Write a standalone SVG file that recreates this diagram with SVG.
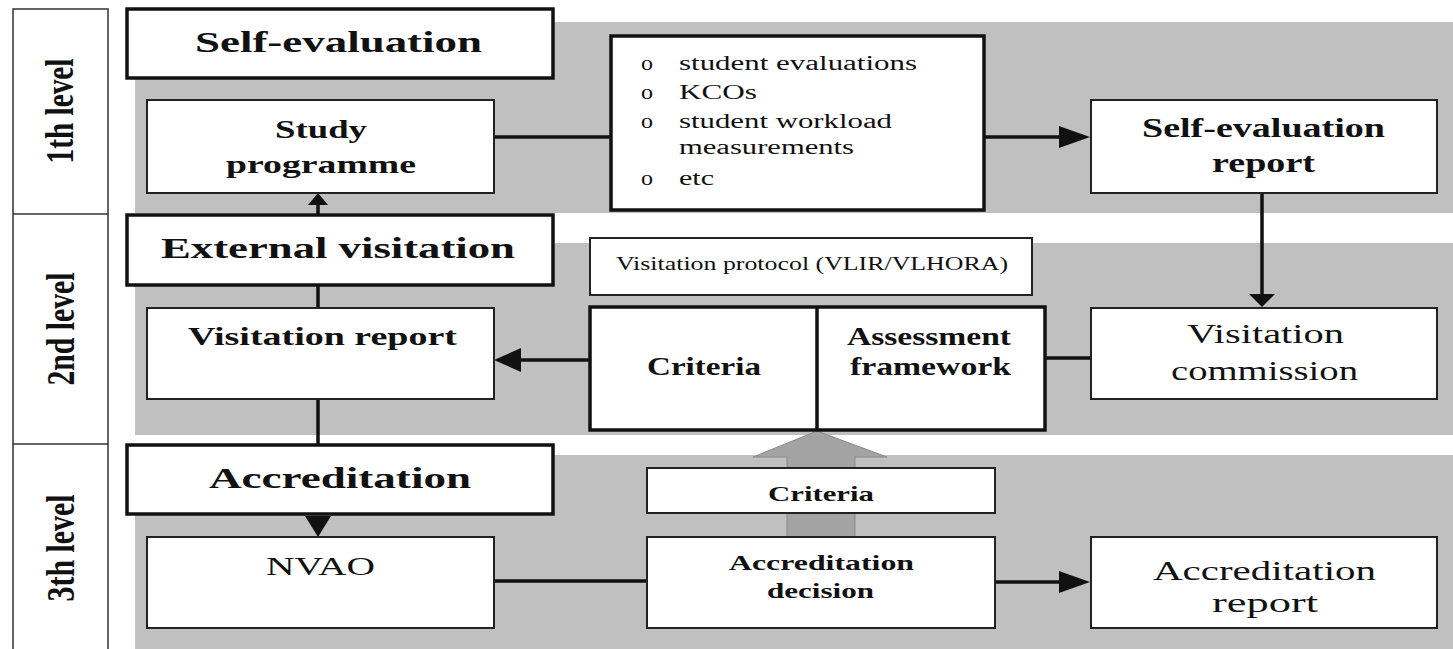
<svg xmlns="http://www.w3.org/2000/svg" width="1453" height="649" viewBox="0 0 1453 649">
<style>
.band{fill:#c0c0c0}
.hdr{fill:#fff;stroke:#111;stroke-width:3.5}
.box{fill:#fff;stroke:#222;stroke-width:2}
.thk{fill:#fff;stroke:#111;stroke-width:3.5}
.lvl{fill:#fff;stroke:#333;stroke-width:1.5}
.ln{stroke:#111;stroke-width:3.5;fill:none}
.ah{fill:#111}
text{font-family:"Liberation Serif","Times New Roman",serif;fill:#111}
.b{font-weight:bold}
.h{font-size:30px;font-weight:bold}
.m{font-size:25px;font-weight:bold}
.r{font-size:27px}
.s{font-size:20px}
.sm{font-size:21px;font-weight:bold}
</style>
<rect width="1453" height="649" fill="#fff"/>
<g id="bands">
<rect class="band" x="135" y="22" width="1318" height="191"/>
<rect class="band" x="135" y="243" width="1318" height="192"/>
<rect class="band" x="135" y="455" width="1318" height="194"/>
</g>
<g id="levels">
<rect class="lvl" x="13" y="9" width="95" height="645"/>
<line x1="13" y1="214" x2="108" y2="214" stroke="#333" stroke-width="1.5"/>
<line x1="13" y1="444" x2="108" y2="444" stroke="#333" stroke-width="1.5"/>
<text class="b" font-size="29" text-anchor="middle" textLength="105" lengthAdjust="spacingAndGlyphs" transform="translate(73,111) scale(1.35,1) rotate(-90)">1th level</text>
<text class="b" font-size="29" text-anchor="middle" textLength="113" lengthAdjust="spacingAndGlyphs" transform="translate(74,329) scale(1.35,1) rotate(-90)">2nd level</text>
<text class="b" font-size="29" text-anchor="middle" textLength="107" lengthAdjust="spacingAndGlyphs" transform="translate(74,548) scale(1.35,1) rotate(-90)">3th level</text>
</g>
<g id="gray-arrow">
<polygon points="817,431 887,457 855,457 855,537 787,537 787,457 753,457" fill="#a3a3a3" stroke="#8a8a8a" stroke-width="1"/>
</g>
<g id="connectors">
<line class="ln" x1="318" y1="215" x2="318" y2="202"/>
<polygon class="ah" points="318,193 308,205 328,205"/>
<line class="ln" x1="494" y1="137" x2="611" y2="137"/>
<line class="ln" x1="984" y1="137" x2="1062" y2="137"/>
<polygon class="ah" points="1090,137 1059,126 1059,148"/>
<line class="ln" x1="1262" y1="193" x2="1262" y2="297"/>
<polygon class="ah" points="1262,307 1249,294 1275,294"/>
<line class="ln" x1="1091" y1="358" x2="1045" y2="358"/>
<line class="ln" x1="590" y1="360" x2="518" y2="360"/>
<polygon class="ah" points="494,360 521,348 521,372"/>
<line class="ln" x1="318" y1="285" x2="318" y2="307"/>
<line class="ln" x1="318" y1="399" x2="318" y2="445"/>
<polygon class="ah" points="318,537 305,516 331,516"/>
<line class="ln" x1="494" y1="581" x2="647" y2="581"/>
<line class="ln" x1="995" y1="582" x2="1062" y2="582"/>
<polygon class="ah" points="1090,582 1059,571 1059,593"/>
</g>
<g id="self-evaluation">
<rect class="hdr" x="127" y="9" width="426" height="69"/>
<text class="h" x="195" y="52" textLength="287" lengthAdjust="spacingAndGlyphs">Self-evaluation</text>
</g>
<g id="study-programme">
<rect class="box" x="147" y="100" width="347" height="93"/>
<text class="m" x="275" y="138" textLength="92" lengthAdjust="spacingAndGlyphs">Study</text>
<text class="m" x="226" y="173" textLength="190" lengthAdjust="spacingAndGlyphs">programme</text>
</g>
<g id="instruments">
<rect class="thk" x="611" y="36" width="373" height="174"/>
<g class="s">
<text x="641" y="70" textLength="12" lengthAdjust="spacingAndGlyphs">o</text><text x="679" y="70" textLength="238" lengthAdjust="spacingAndGlyphs">student evaluations</text>
<text x="641" y="99" textLength="12" lengthAdjust="spacingAndGlyphs">o</text><text x="679" y="99" textLength="78" lengthAdjust="spacingAndGlyphs">KCOs</text>
<text x="641" y="128" textLength="12" lengthAdjust="spacingAndGlyphs">o</text><text x="679" y="128" textLength="213" lengthAdjust="spacingAndGlyphs">student workload</text>
<text x="679" y="154" textLength="175" lengthAdjust="spacingAndGlyphs">measurements</text>
<text x="641" y="185" textLength="12" lengthAdjust="spacingAndGlyphs">o</text><text x="679" y="185" textLength="35" lengthAdjust="spacingAndGlyphs">etc</text>
</g>
</g>
<g id="self-evaluation-report">
<rect class="box" x="1091" y="100" width="346" height="93"/>
<text class="r b" x="1142" y="137" textLength="243" lengthAdjust="spacingAndGlyphs">Self-evaluation</text>
<text class="r b" x="1212" y="172" textLength="103" lengthAdjust="spacingAndGlyphs">report</text>
</g>
<g id="external-visitation">
<rect class="hdr" x="127" y="215" width="426" height="70"/>
<text class="h" x="161" y="258" textLength="354" lengthAdjust="spacingAndGlyphs">External visitation</text>
</g>
<g id="visitation-protocol">
<rect class="box" x="590" y="238" width="442" height="57"/>
<text font-size="18" x="616" y="270" textLength="392" lengthAdjust="spacingAndGlyphs">Visitation protocol (VLIR/VLHORA)</text>
</g>
<g id="visitation-report">
<rect class="box" x="147" y="308" width="347" height="91"/>
<text class="m" x="188" y="345" textLength="269" lengthAdjust="spacingAndGlyphs">Visitation report</text>
</g>
<g id="criteria-framework">
<rect class="thk" x="590" y="307" width="455" height="123"/>
<line x1="817" y1="307" x2="817" y2="430" stroke="#111" stroke-width="3.5"/>
<text class="m" font-size="24" x="647" y="375" textLength="114" lengthAdjust="spacingAndGlyphs">Criteria</text>
<text class="m" font-size="24" x="847" y="345" textLength="164" lengthAdjust="spacingAndGlyphs">Assessment</text>
<text class="m" font-size="24" x="850" y="375" textLength="161" lengthAdjust="spacingAndGlyphs">framework</text>
</g>
<g id="visitation-commission">
<rect class="box" x="1091" y="308" width="346" height="91"/>
<text class="r" x="1187" y="343" textLength="157" lengthAdjust="spacingAndGlyphs">Visitation</text>
<text class="r" x="1171" y="380" textLength="187" lengthAdjust="spacingAndGlyphs">commission</text>
</g>
<g id="accreditation">
<rect class="hdr" x="127" y="445" width="426" height="69"/>
<text class="h" font-size="31" x="209" y="488" textLength="262" lengthAdjust="spacingAndGlyphs">Accreditation</text>
</g>
<g id="criteria-lower">
<rect class="box" x="647" y="468" width="348" height="45"/>
<text class="sm" x="768" y="501" textLength="106" lengthAdjust="spacingAndGlyphs">Criteria</text>
</g>
<g id="nvao">
<rect class="box" x="147" y="537" width="347" height="91"/>
<text font-size="26" x="266" y="575" textLength="109" lengthAdjust="spacingAndGlyphs">NVAO</text>
</g>
<g id="accreditation-decision">
<rect class="box" x="647" y="537" width="348" height="91"/>
<text class="sm" x="729" y="570" textLength="185" lengthAdjust="spacingAndGlyphs">Accreditation</text>
<text class="sm" x="767" y="598" textLength="107" lengthAdjust="spacingAndGlyphs">decision</text>
</g>
<g id="accreditation-report">
<rect class="box" x="1091" y="537" width="346" height="91"/>
<text font-size="28" x="1153" y="580" textLength="223" lengthAdjust="spacingAndGlyphs">Accreditation</text>
<text font-size="28" x="1212" y="612" textLength="106" lengthAdjust="spacingAndGlyphs">report</text>
</g>
</svg>
